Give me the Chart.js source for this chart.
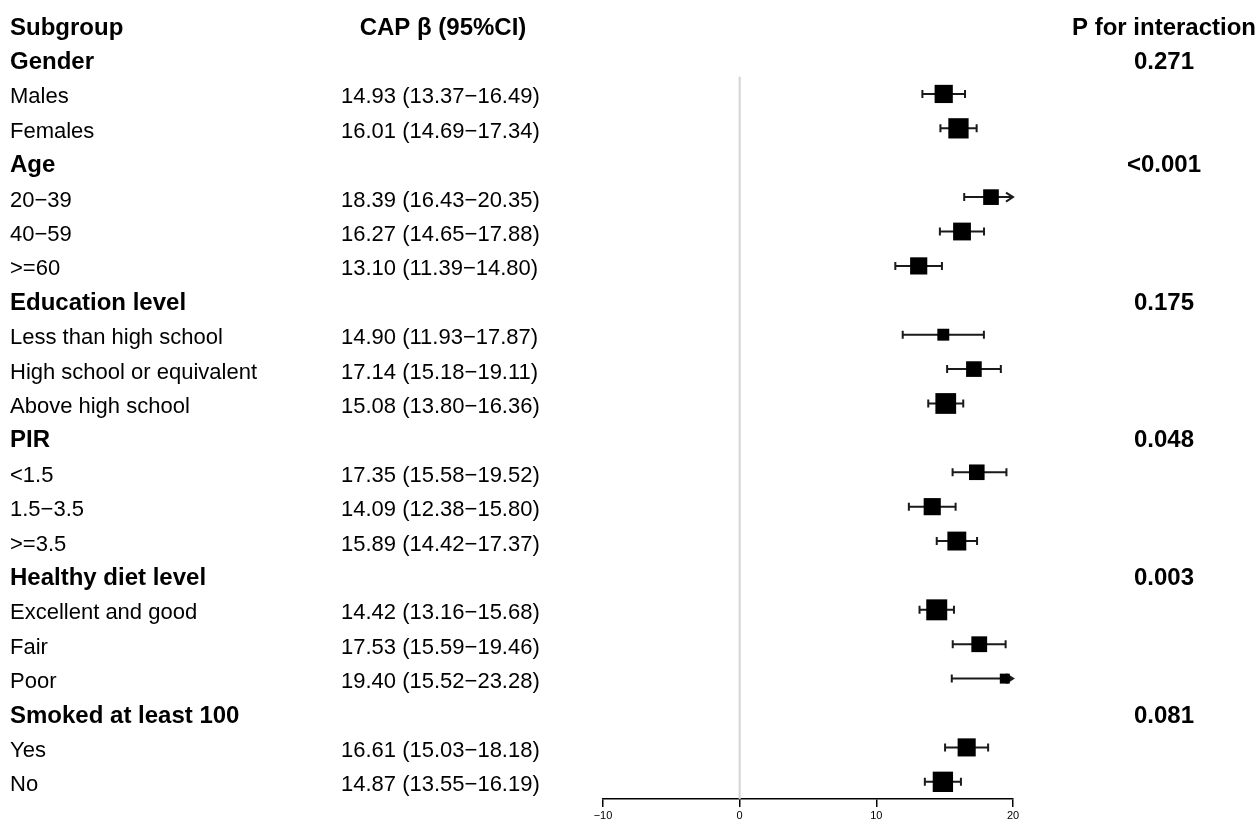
<!DOCTYPE html>
<html>
<head>
<meta charset="utf-8">
<script src="https://cdn.jsdelivr.net/npm/chart.js@4/dist/chart.umd.min.js"></script>
<style>
  html, body { margin: 0; padding: 0; background: #fff; }
</style>
</head>
<body>
<canvas id="forest" width="1258" height="824"></canvas>
<script>
// rows of the table, top to bottom (header row is drawn separately)
const subgroups = ['Gender', 'Males', 'Females', 'Age', '20\u221239', '40\u221259', '>=60',
  'Education level', 'Less than high school', 'High school or equivalent', 'Above high school',
  'PIR', '<1.5', '1.5\u22123.5', '>=3.5', 'Healthy diet level', 'Excellent and good', 'Fair', 'Poor',
  'Smoked at least 100', 'Yes', 'No'];
const beta  = [null, 14.93, 16.01, null, 18.39, 16.27, 13.10, null, 14.90, 17.14, 15.08,
  null, 17.35, 14.09, 15.89, null, 14.42, 17.53, 19.40, null, 16.61, 14.87];
const lower = [null, 13.37, 14.69, null, 16.43, 14.65, 11.39, null, 11.93, 15.18, 13.80,
  null, 15.58, 12.38, 14.42, null, 13.16, 15.59, 15.52, null, 15.03, 13.55];
const upper = [null, 16.49, 17.34, null, 20.35, 17.88, 14.80, null, 17.87, 19.11, 16.36,
  null, 19.52, 15.80, 17.37, null, 15.68, 19.46, 23.28, null, 18.18, 16.19];
const pInteraction = ['0.271', '', '', '<0.001', '', '', '', '0.175', '', '', '',
  '0.048', '', '', '', '0.003', '', '', '', '0.081', '', ''];
const headers = ['Subgroup', 'CAP \u03b2 (95%CI)', 'P for interaction'];
const xTicks = [-10, 0, 10, 20];

const xMin = -10, xMax = 20;
const FONT = '"Liberation Sans", Arial, Helvetica, sans-serif';
const minus = s => String(s).replace(/-/g, '\u2212');

// box size follows precision of the estimate (narrower CI -> bigger box)
function boxSide(i) {
  return 38.6 * Math.pow(upper[i] - lower[i], -0.66);
}

const points = [];
beta.forEach((b, i) => { if (b !== null) points.push({ x: b, y: i + 1, idx: i }); });

const forestDecor = {
  id: 'forestDecor',
  beforeDatasetsDraw(chart) {
    const { ctx, chartArea, scales: { x, y } } = chart;
    ctx.save();
    // reference line at 0
    ctx.strokeStyle = '#d3d3d3';
    ctx.lineWidth = 2;
    ctx.beginPath();
    ctx.moveTo(x.getPixelForValue(0), y.getPixelForValue(1.5));
    ctx.lineTo(x.getPixelForValue(0), chartArea.bottom);
    ctx.stroke();

    // confidence intervals
    ctx.strokeStyle = '#1a1a1a';
    ctx.lineWidth = 2;
    beta.forEach((b, i) => {
      if (b === null) return;
      const yy = y.getPixelForValue(i + 1);
      const lo = Math.max(lower[i], xMin), hi = Math.min(upper[i], xMax);
      const x0 = x.getPixelForValue(lo), x1 = x.getPixelForValue(hi);
      ctx.beginPath();
      ctx.moveTo(x0, yy); ctx.lineTo(x1, yy);
      if (lower[i] >= xMin) { ctx.moveTo(x0, yy - 4); ctx.lineTo(x0, yy + 4); }
      else { ctx.moveTo(x0 + 7, yy - 4); ctx.lineTo(x0, yy); ctx.lineTo(x0 + 7, yy + 4); }
      if (upper[i] <= xMax) { ctx.moveTo(x1, yy - 4); ctx.lineTo(x1, yy + 4); }
      else { ctx.moveTo(x1 - 7, yy - 4.5); ctx.lineTo(x1, yy); ctx.lineTo(x1 - 7, yy + 4.5); }
      ctx.stroke();
    });
    ctx.restore();
  },
  afterDraw(chart) {
    const { ctx, scales: { y } } = chart;
    ctx.save();
    ctx.fillStyle = '#000';
    ctx.textBaseline = 'alphabetic';
    const base = r => y.getPixelForValue(r) + 9.5;
    const bold = 'bold 24px ' + FONT, plain = '22px ' + FONT;

    ctx.font = bold;
    ctx.textAlign = 'left';
    ctx.fillText(headers[0], 10, base(0));
    ctx.textAlign = 'center';
    ctx.fillText(headers[1], 443, base(0));
    ctx.fillText(headers[2], 1164, base(0));

    subgroups.forEach((name, i) => {
      const r = i + 1;
      const isGroup = beta[i] === null;
      ctx.font = isGroup ? bold : plain;
      ctx.textAlign = 'left';
      ctx.fillText(name, 10, base(r));
      if (!isGroup) {
        const txt = beta[i].toFixed(2) + ' (' + lower[i].toFixed(2) + '\u2212' + upper[i].toFixed(2) + ')';
        ctx.fillText(txt, 341, base(r));
      }
      if (pInteraction[i]) {
        ctx.font = bold;
        ctx.textAlign = 'center';
        ctx.fillText(pInteraction[i], 1164, base(r));
      }
    });
    ctx.restore();
  }
};

new Chart(document.getElementById('forest'), {
  type: 'scatter',
  data: {
    datasets: [{
      data: points,
      pointStyle: 'rect',
      backgroundColor: '#000',
      borderWidth: 0,
      pointRadius: c => boxSide(c.raw.idx) / Math.SQRT2,
      pointHoverRadius: c => boxSide(c.raw.idx) / Math.SQRT2
    }]
  },
  options: {
    responsive: false,
    animation: false,
    layout: { padding: { left: 603, right: 245, top: 20, bottom: 0 } },
    plugins: { legend: { display: false }, tooltip: { enabled: false } },
    scales: {
      x: {
        type: 'linear',
        min: xMin,
        max: xMax,
        afterBuildTicks: s => { s.ticks = xTicks.map(v => ({ value: v })); },
        afterFit: s => { s.height = 25; },
        ticks: {
          color: '#000',
          padding: 2,
          font: { family: FONT, size: 11 },
          callback: v => minus(v)
        },
        grid: { drawOnChartArea: false, drawTicks: true, tickLength: 8, color: '#000', lineWidth: 1.5 },
        border: { display: true, color: '#000', width: 1.5 }
      },
      y: {
        type: 'linear',
        min: -0.15,
        max: 22.5,
        reverse: true,
        display: false
      }
    }
  },
  plugins: [forestDecor]
});
</script>
</body>
</html>
